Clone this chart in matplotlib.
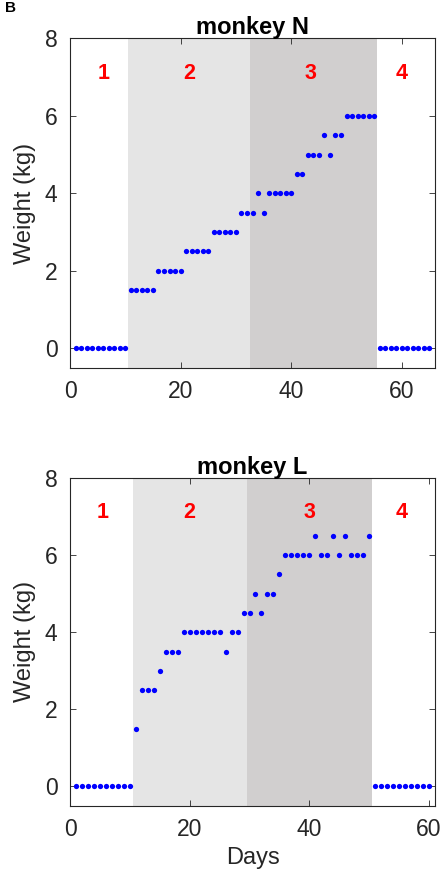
import numpy as np
import matplotlib
matplotlib.use("Agg")
import matplotlib.pyplot as plt

plt.rcParams['font.family'] = ['Liberation Sans', 'DejaVu Sans']

# monkey N: daily weight, days 1..65
days_n = np.arange(1, 66)
weight_n = ([0] * 10 + [1.5] * 5 + [2] * 5 + [2.5] * 5 + [3] * 5
            + [3.5, 3.5, 3.5, 4, 3.5] + [4] * 5 + [4.5, 4.5]
            + [5, 5, 5, 5.5, 5, 5.5, 5.5] + [6] * 6 + [0] * 10)
phases_n = [10.5, 32.5, 55.5]
labels_n = [6, 21.5, 43.5, 60]

# monkey L: daily weight, days 1..60
days_l = np.arange(1, 61)
weight_l = ([0] * 10 + [1.5, 2.5, 2.5, 2.5, 3, 3.5, 3.5, 3.5] + [4] * 7
            + [3.5, 4, 4, 4.5, 4.5, 5, 4.5, 5, 5, 5.5] + [6] * 5
            + [6.5, 6, 6, 6.5, 6, 6.5, 6, 6, 6, 6.5] + [0] * 10)
phases_l = [10.5, 29.5, 50.5]
labels_l = [5.5, 20, 40, 55.5]

phase_names = ['1', '2', '3', '4']
light = '#e5e5e5'
dark = '#d1cfcf'
axcol = '#262626'


def panel(ax, days, weight, phases, labels, xmax, title, xlabel=None):
    ax.axvspan(phases[0], phases[1], color=light, lw=0, zorder=0)
    ax.axvspan(phases[1], phases[2], color=dark, lw=0, zorder=0)
    ax.plot(days, weight, 'o', color='#0000ff', ms=3.8, mew=0, zorder=3)
    for x, name in zip(labels, phase_names):
        ax.text(x, 7.1, name, color='#ff0000', fontsize=15.5, fontweight='bold',
                ha='center', va='center')
    ax.set_xlim(0, xmax)
    ax.set_ylim(-0.5, 8)
    ax.set_xticks([0, 20, 40, 60])
    ax.set_yticks([0, 2, 4, 6, 8])
    ax.tick_params(direction='in', top=True, right=True, length=4,
                   width=0.6, colors=axcol, labelsize=16.5, pad=9)
    for s in ax.spines.values():
        s.set_color(axcol)
        s.set_linewidth(0.8)
    ax.set_title(title, fontsize=17, fontweight='bold', pad=3)
    ax.set_ylabel('Weight (kg)', fontsize=17, color=axcol, labelpad=6)
    if xlabel:
        ax.set_xlabel(xlabel, fontsize=17, color=axcol, labelpad=4)


fig = plt.figure(figsize=(4.44, 8.76), dpi=100)
ax1 = fig.add_axes([0.1577, 0.5803, 0.822, 0.376])
ax2 = fig.add_axes([0.1577, 0.0802, 0.822, 0.374])

panel(ax1, days_n, weight_n, phases_n, labels_n, 66, 'monkey N')
panel(ax2, days_l, weight_l, phases_l, labels_l, 61, 'monkey L', 'Days')

fig.text(0.012, 0.999, 'B', fontsize=11, fontweight='bold', va='top', ha='left')

fig.savefig('out.png', dpi=100)
